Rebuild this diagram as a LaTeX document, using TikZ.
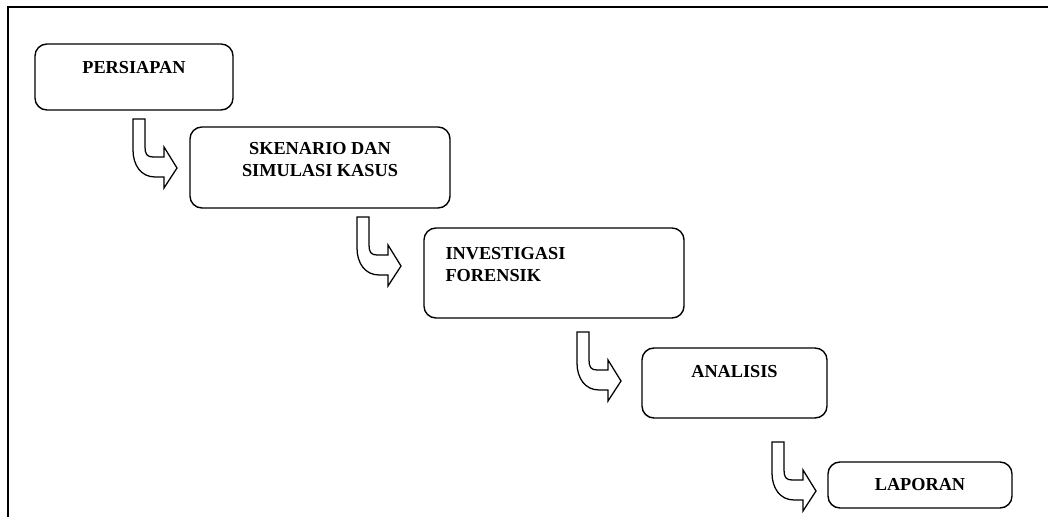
\documentclass[tikz,border=0pt]{standalone}
\usepackage{fontspec}
\setmainfont{Liberation Serif}
\usetikzlibrary{positioning, calc}

\tikzset{
  pics/turnarrow/.style={code={
    \draw[arrowline] (0,0) -- (12,0) -- (12,28)
      .. controls (12,35) and (14,38) .. (20,38) -- (31,38) -- (31,28)
      -- (44,49) -- (31,69) -- (31,58) -- (22,58)
      .. controls (8,58) and (0,46) .. (0,31) -- cycle;
  }}
}

\begin{document}
\begin{tikzpicture}[
  x=0.025cm, y=-0.025cm,
  box/.style={draw, line width=1pt, rounded corners=0.3cm, inner sep=0pt},
  txt/.style={font=\bfseries\fontsize{13}{15.5}\selectfont, inner sep=0pt},
  arrowline/.style={line width=0.9pt, line join=miter},
  frame/.style={line width=1.4pt}
]
\useasboundingbox (0,0) rectangle (1048,517);
\clip (0,0) rectangle (1048,517);

% outer frame (cut off at right and bottom)
\draw[frame] (8,540) |- (1060,7);

% stages
\node[box, minimum width=4.95cm, minimum height=1.65cm]  (persiapan)   at (134,77)    {};
\node[box, minimum width=6.5cm,  minimum height=2.025cm] (skenario)    at (320,167.5) {};
\node[box, minimum width=6.5cm,  minimum height=2.25cm]  (investigasi) at (554,273)   {};
\node[box, minimum width=4.625cm,minimum height=1.75cm]  (analisis)    at (734.5,383) {};
\node[box, minimum width=4.6cm,  minimum height=1.15cm]  (laporan)     at (920,485)   {};

% labels
\node[txt] (tpersiapan) at ($(persiapan.north)+(0,24)$) {PERSIAPAN};
\node[txt, align=center] (tskenario) at ($(skenario.north)+(0,33.5)$) {SKENARIO DAN\\SIMULASI KASUS};
\node[txt, align=left, anchor=west] (tinvestigasi) at ($(investigasi.west)+(22,-8.5)$) {INVESTIGASI\\FORENSIK};
\node[txt] (tanalisis) at ($(analisis.north)+(0,24)$) {ANALISIS};
\node[txt] (tlaporan) at (laporan) {LAPORAN};

% turn arrows between stages
\pic at (133,119) {turnarrow};
\pic at (357,217) {turnarrow};
\pic at (577,332) {turnarrow};
\pic at (772,442) {turnarrow};
\end{tikzpicture}
\end{document}
